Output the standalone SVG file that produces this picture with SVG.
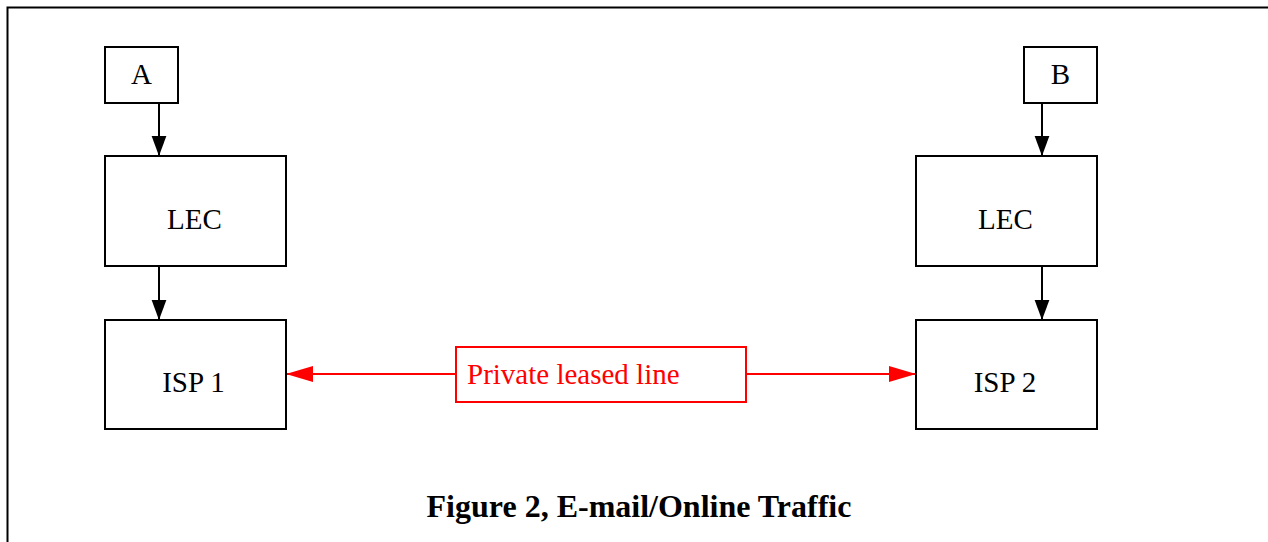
<svg xmlns="http://www.w3.org/2000/svg" width="1268" height="542" viewBox="0 0 1268 542">
<style>
.box{fill:#fff;stroke:#000;stroke-width:2}
.lbl{font-family:"Liberation Serif","Times New Roman",serif;font-size:29px;fill:#000;text-anchor:middle}
.blk{stroke:#000;stroke-width:2;fill:none}
.red{stroke:#f00;stroke-width:2;fill:none}
</style>
<defs>
<marker id="ab" markerUnits="userSpaceOnUse" markerWidth="20" markerHeight="16" viewBox="0 0 19 14" refX="19" refY="7" orient="auto">
<path d="M0,0 L19,7 L0,14 Z" fill="#000"/>
</marker>
<marker id="ar" markerUnits="userSpaceOnUse" markerWidth="27" markerHeight="16" viewBox="0 0 27 16" refX="27" refY="8" orient="auto">
<path d="M0,0 L27,8 L0,16 Z" fill="#f00"/>
</marker>
</defs>
<rect width="1268" height="542" fill="#fff"/>
<g id="frame">
<path d="M7.5,542 V7.5 H1268" stroke="#000" stroke-width="2" fill="none"/>
</g>
<g id="connectors">
<line class="blk" x1="159" y1="103" x2="159" y2="156" marker-end="url(#ab)"/>
<line class="blk" x1="159" y1="266" x2="159" y2="320" marker-end="url(#ab)"/>
<line class="blk" x1="1042" y1="103" x2="1042" y2="156" marker-end="url(#ab)"/>
<line class="blk" x1="1042" y1="266" x2="1042" y2="320" marker-end="url(#ab)"/>
<line class="red" x1="456" y1="374" x2="286" y2="374" marker-end="url(#ar)"/>
<line class="red" x1="746" y1="374" x2="916" y2="374" marker-end="url(#ar)"/>
</g>
<g id="nodeA">
<rect class="box" x="105" y="47" width="73" height="56"/>
<text class="lbl" x="141.5" y="84">A</text>
</g>
<g id="nodeB">
<rect class="box" x="1024" y="47" width="73" height="56"/>
<text class="lbl" x="1060.5" y="84">B</text>
</g>
<g id="lec1">
<rect class="box" x="105" y="156" width="181" height="110"/>
<text class="lbl" x="194.5" y="228.5">LEC</text>
</g>
<g id="lec2">
<rect class="box" x="916" y="156" width="181" height="110"/>
<text class="lbl" x="1005.5" y="228.5">LEC</text>
</g>
<g id="isp1">
<rect class="box" x="105" y="320" width="181" height="109"/>
<text class="lbl" x="193.5" y="392">ISP 1</text>
</g>
<g id="isp2">
<rect class="box" x="916" y="320" width="181" height="109"/>
<text class="lbl" x="1005" y="392">ISP 2</text>
</g>
<g id="leased">
<rect x="456" y="347" width="290" height="55" fill="#fff" stroke="#f00" stroke-width="2"/>
<text x="467" y="384" font-family="'Liberation Serif','Times New Roman',serif" font-size="29" fill="#f00">Private leased line</text>
</g>
<g id="caption">
<text x="639" y="517" font-family="'Liberation Serif','Times New Roman',serif" font-size="32" font-weight="bold" text-anchor="middle" fill="#000">Figure 2, E-mail/Online Traffic</text>
</g>
</svg>
